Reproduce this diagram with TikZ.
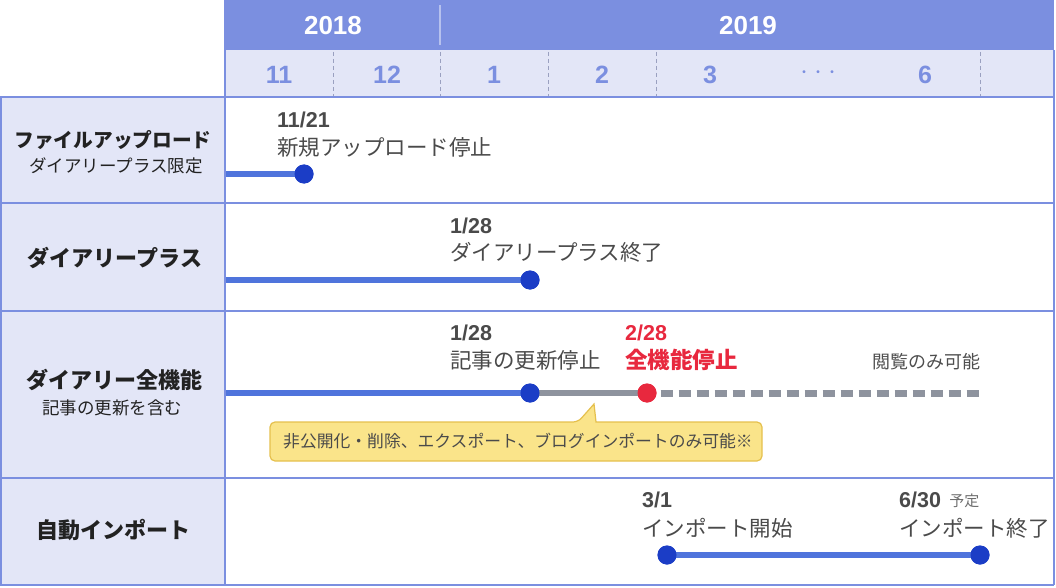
\documentclass[tikz,border=0pt]{standalone}
\usepackage{fontspec}
\setmainfont{Liberation Sans}
\newfontfamily\jp{Noto Sans CJK JP}
\definecolor{hdr}{HTML}{7B8FE0}
\definecolor{lite}{HTML}{E3E6F7}
\definecolor{txt}{HTML}{4A4A4A}
\definecolor{lbl}{HTML}{222222}
\definecolor{bline}{HTML}{4F74DC}
\definecolor{bdot}{HTML}{1B3DC6}
\definecolor{gline}{HTML}{8E939E}
\definecolor{rdot}{HTML}{E8283E}
\definecolor{calfill}{HTML}{FAE48A}
\definecolor{caldraw}{HTML}{E5C04E}
\definecolor{sep}{HTML}{9AA0C0}
\tikzset{
  datelbl/.style={anchor=west, inner sep=0, text=txt, font=\bfseries\fontsize{21.5}{24}\selectfont},
  evlbl/.style={anchor=west, inner sep=0, text=txt, font=\jp\fontsize{21.5}{24}\selectfont},
  rowhead/.style={inner sep=0, text=lbl, font=\jp\bfseries\fontsize{22}{24}\selectfont},
  rowsub/.style={inner sep=0, text=lbl, font=\jp\fontsize{17.5}{20}\selectfont},
  yearlbl/.style={inner sep=0, text=white, font=\bfseries\fontsize{26}{28}\selectfont},
  monlbl/.style={inner sep=0, text=hdr, font=\bfseries\fontsize{25}{28}\selectfont},
  dotnode/.style={circle, fill=bdot, minimum size=19pt, inner sep=0},
  reddot/.style={circle, fill=rdot, minimum size=19pt, inner sep=0},
  blueline/.style={bline, line width=6pt},
  grayline/.style={gline, line width=6pt},
  grid/.style={hdr, line width=2pt},
  msep/.style={sep, line width=0.8pt, dash pattern=on 4pt off 3pt},
}
\begin{document}
\begin{tikzpicture}[x=1pt,y=-1pt]
\useasboundingbox (0,0) rectangle (1056,588);
% backgrounds
\fill[hdr] (225,0) rectangle (1054,50);
\fill[lite] (225,50) rectangle (1054,97);
\fill[lite] (0,97) rectangle (225,585);
% year divider
\draw[white!45!hdr, line width=1.2pt] (440,5) -- (440,45);
% month separators
\foreach \x in {333,440,548,656,980} \draw[msep] (\x,52) -- (\x,96);
% grid
\draw[grid] (225,0) -- (225,585);
\draw[grid] (0,97) -- (1054,97);
\draw[grid] (0,203) -- (1054,203);
\draw[grid] (0,311) -- (1054,311);
\draw[grid] (0,478) -- (1054,478);
\draw[grid] (0,585) -- (1054,585);
\draw[grid] (1,97) -- (1,585);
\draw[grid] (1054,50) -- (1054,585);
% header labels
\node[yearlbl] (y18) at (333,26) {2018};
\node[yearlbl] (y19) at (748,26) {2019};
\node[monlbl] (m11) at (279,75) {11};
\node[monlbl] (m12) at (387,75) {12};
\node[monlbl] (m1) at (494,75) {1};
\node[monlbl] (m2) at (602,75) {2};
\node[monlbl] (m3) at (710,75) {3};
\node[inner sep=0, text=hdr, font=\jp\fontsize{14}{16}\selectfont] (mdots) at (818,74) {・・・};
\node[monlbl] (m6) at (925,75) {6};
% row heads
\node[rowhead, font=\jp\bfseries\fontsize{19.7}{24}\selectfont] (h1) at (113,140) {ファイルアップロード};
\node[rowsub] (h1s) at (116,166) {ダイアリープラス限定};
\node[rowhead] (h2) at (115,258) {ダイアリープラス};
\node[rowhead] (h3) at (114,380) {ダイアリー全機能};
\node[rowsub] (h3s) at (112,408) {記事の更新を含む};
\node[rowhead] (h4) at (113,530) {自動インポート};
% row 1
\coordinate (s1) at (226,174);
\node[dotnode] (d1) at (304,174) {};
\draw[blueline] (s1) -- (d1.center);
\node[dotnode] at (304,174) {};
\node[datelbl] (t1a) at (277,120) {11/21};
\node[evlbl] (t1b) at (277,147) {新規アップロード停止};
% row 2
\coordinate (s2) at (226,280);
\node[dotnode] (d2) at (530,280) {};
\draw[blueline] (s2) -- (d2.center);
\node[dotnode] at (530,280) {};
\node[datelbl] (t2a) at (450,226) {1/28};
\node[evlbl] (t2b) at (450,252) {ダイアリープラス終了};
% row 3
\coordinate (s3) at (226,393);
\node[dotnode] (d3) at (530,393) {};
\node[reddot] (d3r) at (647,393) {};
\coordinate (e3) at (980,393);
\draw[blueline] (s3) -- (d3.center);
\draw[grayline] (d3.center) -- (d3r.center);
\draw[grayline, line width=7pt, dash pattern=on 12pt off 6pt] (d3r.east) ++(4,0) -- (e3);
\node[dotnode] at (530,393) {};
\node[reddot] at (647,393) {};
\node[datelbl] (t3a) at (450,333) {1/28};
\node[evlbl] (t3b) at (450,360) {記事の更新停止};
\node[datelbl, text=rdot] (t3c) at (625,333) {2/28};
\node[evlbl, text=rdot, font=\jp\bfseries\fontsize{22.5}{24}\selectfont] (t3d) at (625,360) {全機能停止};
\node[anchor=west, inner sep=0, text=lbl!80!white, font=\jp\fontsize{18}{20}\selectfont] (t3e) at (872,362) {閲覧のみ可能};
% callout
\draw[fill=calfill, draw=caldraw, line width=1.2pt]
  (400,461) [rounded corners=5pt] -| (270,422) -- (578,422) [sharp corners] -- (594,404) -- (596,422) [rounded corners=5pt] -| (762,461) -- cycle;
\node[anchor=west, inner sep=0, text=txt, font=\jp\fontsize{16.8}{20}\selectfont] (cal) at (283,441) {非公開化・削除、エクスポート、ブログインポートのみ可能※};
% row 4
\node[dotnode] (d4a) at (667,555) {};
\node[dotnode] (d4b) at (980,555) {};
\draw[blueline] (d4a.center) -- (d4b.center);
\node[dotnode] at (667,555) {};
\node[dotnode] at (980,555) {};
\node[datelbl] (t4a) at (642,500) {3/1};
\node[evlbl] (t4b) at (642,528) {インポート開始};
\node[datelbl] (t4c) at (899,500) {6/30};
\node[anchor=west, inner sep=0, text=txt!80!white, font=\jp\fontsize{15}{16}\selectfont] (t4e) at ([xshift=8pt,yshift=-1pt]t4c.east) {予定};
\node[evlbl] (t4d) at (899,528) {インポート終了};
\end{tikzpicture}
\end{document}
